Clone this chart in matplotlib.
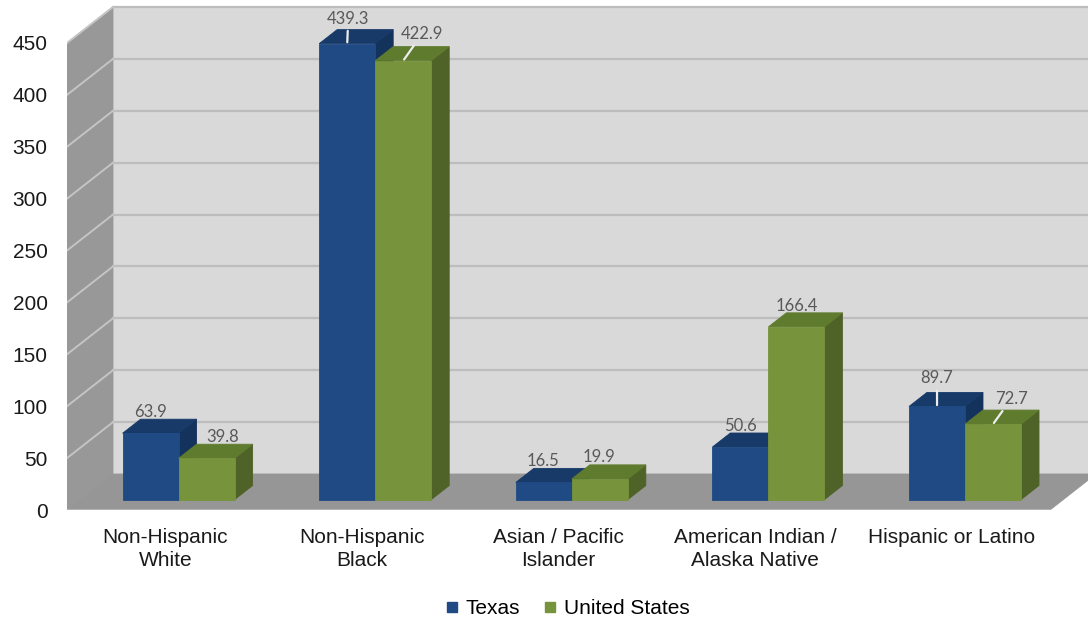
from __future__ import annotations

import matplotlib.pyplot as plt
from matplotlib.lines import Line2D
from matplotlib.patches import Polygon

categories = [
    "Non-Hispanic\nWhite",
    "Non-Hispanic\nBlack",
    "Asian / Pacific\nIslander",
    "American Indian /\nAlaska Native",
    "Hispanic or Latino",
]
texas = [63.9, 439.3, 16.5, 50.6, 89.7]
united_states = [39.8, 422.9, 19.9, 166.4, 72.7]
y_ticks = [0, 50, 100, 150, 200, 250, 300, 350, 400, 450]
series_names = ["Texas", "United States"]

# nudges (pixels) for data labels that would otherwise collide, and which get a leader line
texas_nudge = [(0, 0), (1, 4), (-1, 0), (0, 0), (0, 7)]
us_nudge = [(16, 0), (19, 6), (-1, 1), (0, 0), (18, 4)]
texas_leader = [False, True, False, False, True]
us_leader = [False, True, False, False, True]

FACES = {
    "Texas": {"front": "#1F4A84", "top": "#173A68", "side": "#13325C"},
    "United States": {"front": "#77933C", "top": "#5F7B2E", "side": "#4F6228"},
}

PX_PER_X = 196.6      # pixels per category slot
PX_PER_Y = 1.0378     # pixels per rate unit
DX = 46 / PX_PER_X    # full-depth oblique shift, x units
DY = 36 / PX_PER_Y    # full-depth oblique shift, y units
D0, D1 = 0.29, 0.68   # bar depth span (fraction of floor depth)
BAR_W = 0.285
WALL_TOP = 450


def poly(ax, pts, color, z, ec=None, lw=0.6):
    ax.add_patch(Polygon(pts, closed=True, facecolor=color, edgecolor=ec or color,
                         linewidth=lw, zorder=z))


def draw_box(ax, x0, x1, v, faces, z):
    sx, sy = D0 * DX, D0 * DY
    ex, ey = D1 * DX, D1 * DY
    poly(ax, [(x1 + sx, sy), (x1 + sx, v + sy), (x1 + ex, v + ey), (x1 + ex, ey)], faces["side"], z)
    poly(ax, [(x0 + sx, v + sy), (x1 + sx, v + sy), (x1 + ex, v + ey), (x0 + ex, v + ey)], faces["top"], z)
    poly(ax, [(x0 + sx, sy), (x1 + sx, sy), (x1 + sx, v + sy), (x0 + sx, v + sy)], faces["front"], z)


def label_bar(ax, xc, v, nudge, leader):
    anchor = (xc + D0 * DX, v + D0 * DY)
    k = 72 / 100
    arrow = None
    if leader:
        arrow = dict(arrowstyle="-", color="#EDEDED", lw=1.6, shrinkA=1, shrinkB=1)
    ax.annotate(f"{v:.1f}", xy=anchor, xytext=(nudge[0] * k, (21 + nudge[1]) * k),
                textcoords="offset points", ha="center", va="center",
                fontsize=12, family=["Lato", "DejaVu Sans"], color="#595959",
                arrowprops=arrow, zorder=20)


def main() -> None:
    fig = plt.figure(figsize=(10.88, 6.26), dpi=100)
    W, H = 1088, 626
    left, bottom = 67, 510
    ax = fig.add_axes([left / W, (H - bottom) / H, (W - left) / W, bottom / H])
    ax.set_xlim(0, (W - left) / PX_PER_X)
    ax.set_ylim(0, bottom / PX_PER_Y)
    for s in ax.spines.values():
        s.set_visible(False)

    n = len(categories)
    # back wall, side wall and floor
    poly(ax, [(DX, DY), (n + DX, DY), (n + DX, WALL_TOP + DY), (DX, WALL_TOP + DY)], "#D9D9D9", 1)
    poly(ax, [(0, 0), (0, WALL_TOP), (DX, WALL_TOP + DY), (DX, DY)], "#989898", 1)
    for t in y_ticks[1:]:
        ax.add_line(Line2D([DX, n + DX], [t + DY, t + DY], color="#BDBDBD", lw=1.6, zorder=2))
        ax.add_line(Line2D([0, DX], [t, t + DY], color="#C4C4C4", lw=1.4, zorder=2))
    poly(ax, [(0, 0), (n, 0), (n + DX, DY), (DX, DY)], "#969696", 3)
    ax.add_line(Line2D([0, n], [0, 0], color="#B8B8B8", lw=1.2, zorder=3))

    z = 4
    for i in range(n):
        xc = i + 0.5
        draw_box(ax, xc - BAR_W, xc, texas[i], FACES["Texas"], z)
        draw_box(ax, xc, xc + BAR_W, united_states[i], FACES["United States"], z + 1)
        z += 2
    for i in range(n):
        xc = i + 0.5
        label_bar(ax, xc - BAR_W / 2, texas[i], texas_nudge[i], texas_leader[i])
        label_bar(ax, xc + BAR_W / 2, united_states[i], us_nudge[i], us_leader[i])

    ax.set_yticks(y_ticks)
    ax.set_yticklabels([str(t) for t in y_ticks], fontsize=15, family="Liberation Sans", color="#1A1A1A")
    ax.set_xticks([i + 0.5 for i in range(n)])
    ax.set_xticklabels(categories, fontsize=15, family="Liberation Sans", color="#1A1A1A",
                       linespacing=1.25)
    ax.tick_params(axis="y", length=0, pad=14)
    ax.tick_params(axis="x", length=0, pad=13)

    handles = [Line2D([], [], marker="s", linestyle="none", markersize=7,
                      color=FACES[name]["front"], label=name) for name in series_names]
    fig.legend(handles=handles, loc="center", bbox_to_anchor=(567 / W, 1 - 609 / H), ncol=2,
               frameon=False, handlelength=0.7, handletextpad=0.3, columnspacing=1.1,
               prop={"family": "Liberation Sans", "size": 15})

    fig.savefig("out.png", dpi=100)


if __name__ == "__main__":
    main()
